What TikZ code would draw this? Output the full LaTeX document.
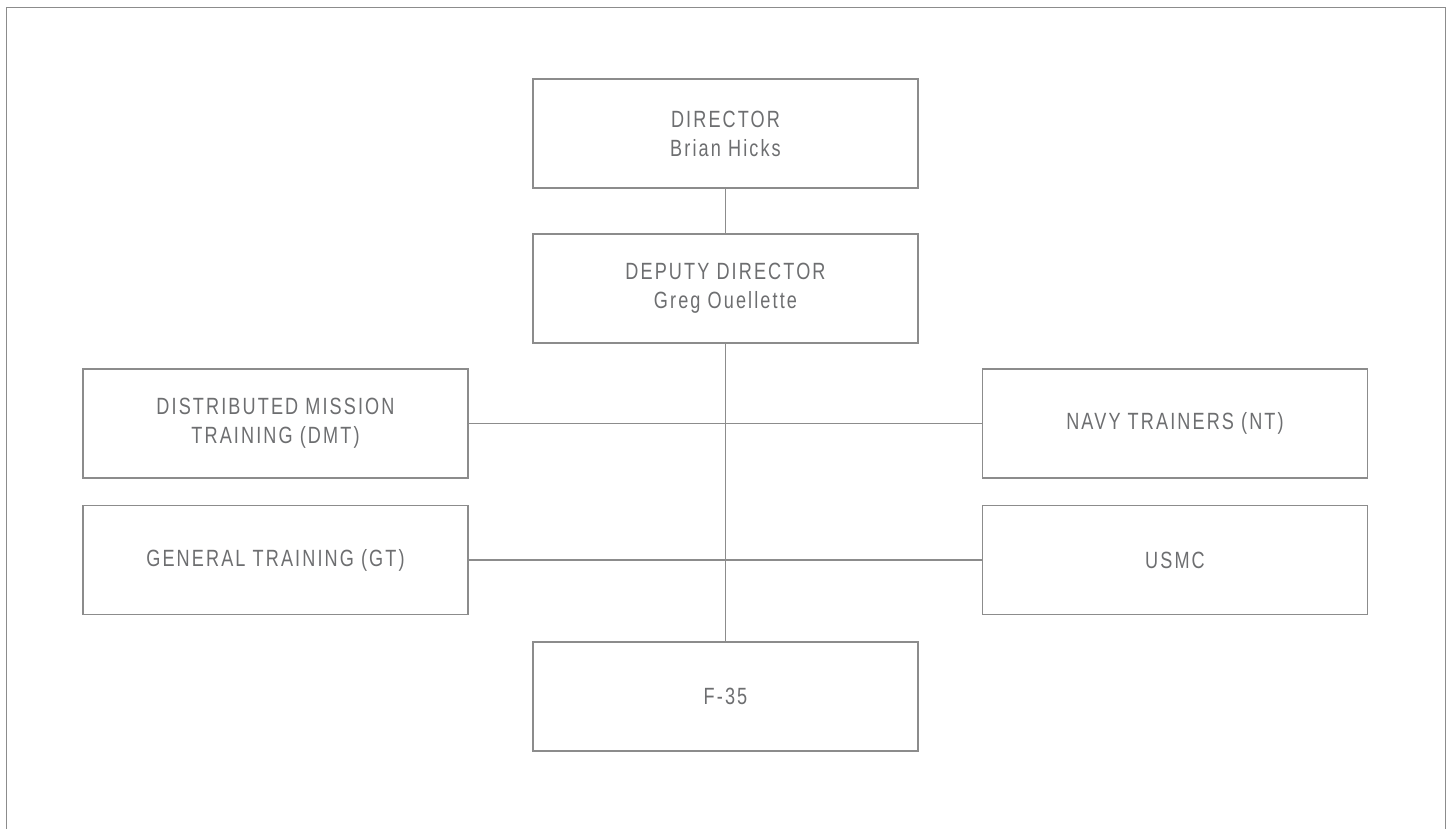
\documentclass[tikz,border=0pt]{standalone}
\usepackage{fontspec}
\newfontfamily\boxfont{Liberation Sans}[FakeStretch=0.77,LetterSpace=9]
\definecolor{linegray}{HTML}{8C8C8C}
\definecolor{textgray}{HTML}{6D6E70}
\begin{document}
\begin{tikzpicture}[x=1pt,y=-1pt,
  orgbox/.style={draw=linegray,line width=1.5pt,rectangle,minimum width=385pt,minimum height=109pt,
    align=center,text=textgray,font=\boxfont\fontsize{23.5}{29}\selectfont,inner sep=0pt},
  link/.style={draw=linegray,line width=1.5pt}]
\useasboundingbox (0,0) rectangle (1452,828);
\draw[link] (6.5,829) -- (6.5,7.5) -- (1445.5,7.5) -- (1445.5,829);
\node[orgbox] (dir) at (725.5,133.5) {DIRECTOR\\Brian Hicks};
\node[orgbox] (dep) at (725.5,288.5) {DEPUTY DIRECTOR\\Greg Ouellette};
\node[orgbox] (dmt) at (275.5,423.5) {DISTRIBUTED MISSION\\TRAINING (DMT)};
\node[orgbox] (nt) at (1175,423.5) {NAVY TRAINERS (NT)};
\node[orgbox] (gt) at (275.5,560) {GENERAL TRAINING (GT)};
\node[orgbox] (usmc) at (1175,560) {USMC};
\node[orgbox] (f35) at (725.5,696.5) {F-35};
\draw[link] (dir.south) -- (dep.north);
\draw[link] (dep.south) -- (f35.north);
\draw[link] (dmt.east) -- (nt.west);
\draw[link] (gt.east) -- (usmc.west);
\end{tikzpicture}
\end{document}
